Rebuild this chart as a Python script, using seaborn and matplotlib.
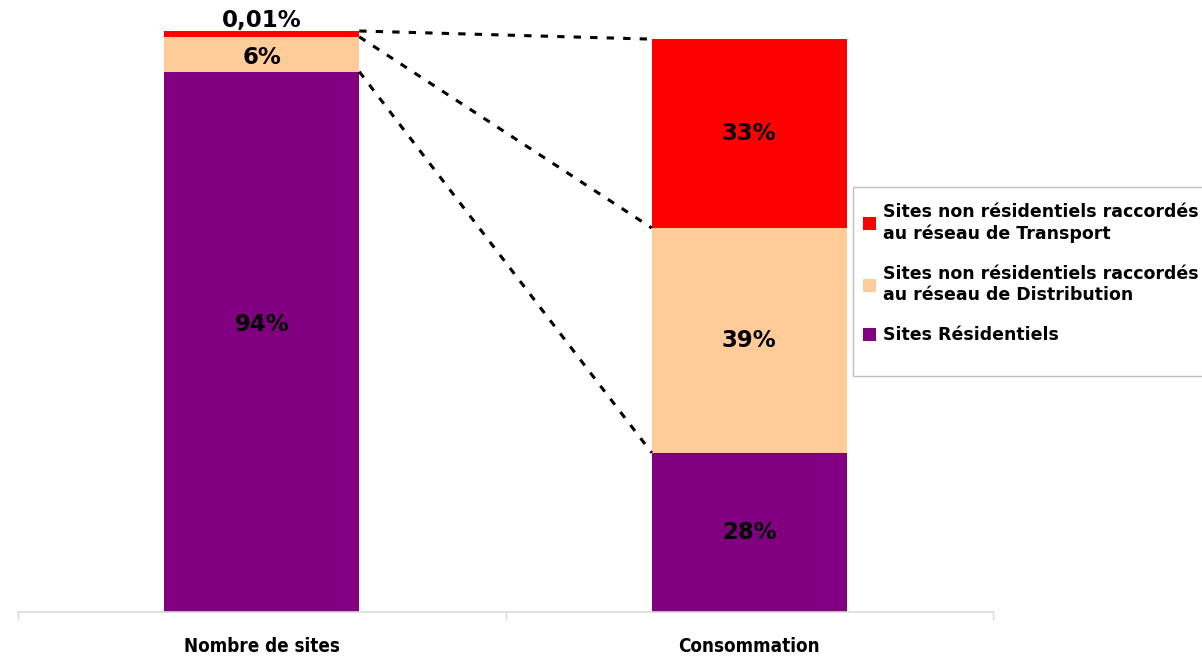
import numpy as np
import pandas as pd
import matplotlib
matplotlib.use("Agg")
import matplotlib.pyplot as plt
import seaborn as sns
from matplotlib.patches import Patch, Rectangle

categories = ["Nombre de sites", "Consommation"]
series_names = ["Sites Résidentiels",
                "Sites non résidentiels raccordés\nau réseau de Distribution",
                "Sites non résidentiels raccordés\nau réseau de Transport"]
residentiels = [93.0, 27.4]
distribution = [6.0, 38.7]
transport = [1.0, 32.5]
labels_residentiels = ["94%", "28%"]
labels_distribution = ["6%", "39%"]
labels_transport = ["0,01%", "33%"]
colors = ["#800080", "#FFCC99", "#FF0000"]

sns.set_theme(style="white")
plt.rcParams['font.family'] = ['DejaVu Sans']
plt.rcParams['text.color'] = 'black'

W, H = 1202, 668
fig = plt.figure(figsize=(W / 100, H / 100), dpi=100)
ax = fig.add_axes([18 / W, (H - 612) / H, (993 - 18) / W, 581 / H])

layers = [residentiels, distribution, transport]
cum = np.cumsum(np.array(layers), axis=0)
# draw totals from top to bottom so lower layers overlay upper ones
for i in range(2, -1, -1):
    df = pd.DataFrame({"cat": categories, "val": cum[i]})
    sns.barplot(data=df, x="cat", y="val", color=colors[i], width=0.4,
                saturation=1, ax=ax, linewidth=0)

ax.set_xlim(-0.5, 1.5)
ax.set_ylim(0, 100)
ax.set_xlabel("")
ax.set_ylabel("")
ax.set_yticks([])
for s in ["top", "left", "right"]:
    ax.spines[s].set_visible(False)
ax.spines["bottom"].set_color("#D9D9D9")
ax.spines["bottom"].set_linewidth(1.2)
ax.set_xticks([0, 1])
ax.set_xticklabels(categories, fontweight="bold", fontsize=13.5,
                   fontstretch="condensed", color="black")
ax.tick_params(axis="x", which="major", length=0, pad=18, colors="black")
ax.set_xticks([-0.5, 0.5, 1.5], minor=True)
ax.tick_params(axis="x", which="minor", length=6, color="#D9D9D9",
               width=1, bottom=True, direction="out")

# connector dashed lines
bw = 0.2
tops = [[cum[2][0], cum[2][1]], [cum[1][0], cum[1][1]], [cum[0][0], cum[0][1]]]
for t in tops:
    ax.plot([0 + bw, 1 - bw], [t[0], t[1]], color="black", lw=2.2,
            ls=(0, (2.4, 3.0)), clip_on=False, zorder=5)

# labels
txt = dict(ha="center", va="center", fontsize=16.5, fontweight="heavy",
           color="black", zorder=6)
ax.text(0, residentiels[0] / 2 + 3, labels_residentiels[0], **txt)
ax.text(1, residentiels[1] / 2, labels_residentiels[1], **txt)
ax.text(0, residentiels[0] + distribution[0] / 2 - 0.6, labels_distribution[0], **txt)
ax.text(1, residentiels[1] + distribution[1] / 2, labels_distribution[1], **txt)
ax.text(0, cum[2][0] + 1.8, labels_transport[0], clip_on=False, **txt)
ax.text(1, cum[2][1] - transport[1] / 2, labels_transport[1], **txt)

# legend frame
fig.patches.append(Rectangle((853 / W, 1 - 376 / H), 0.5, (376 - 187) / H,
                             transform=fig.transFigure, facecolor="white",
                             edgecolor="#BFBFBF", linewidth=1, zorder=0))

handles = [Patch(facecolor=colors[2], edgecolor="none"),
           Patch(facecolor=colors[1], edgecolor="none"),
           Patch(facecolor=colors[0], edgecolor="none")]
leg = fig.legend(handles, [series_names[2], series_names[1], series_names[0]],
                 loc="upper left", bbox_to_anchor=(853 / W, 1 - 187 / H),
                 frameon=False,
                 prop={"weight": "bold", "size": 12.5},
                 title=" ", title_fontsize=1,
                 handlelength=0.8, handleheight=0.8, handletextpad=0.4,
                 labelspacing=1.3, borderpad=0.55, borderaxespad=0)
leg._legend_box.sep = 4
for t in leg.get_texts():
    t.set_color("black")

fig.savefig("out.png", dpi=100, facecolor="white")
